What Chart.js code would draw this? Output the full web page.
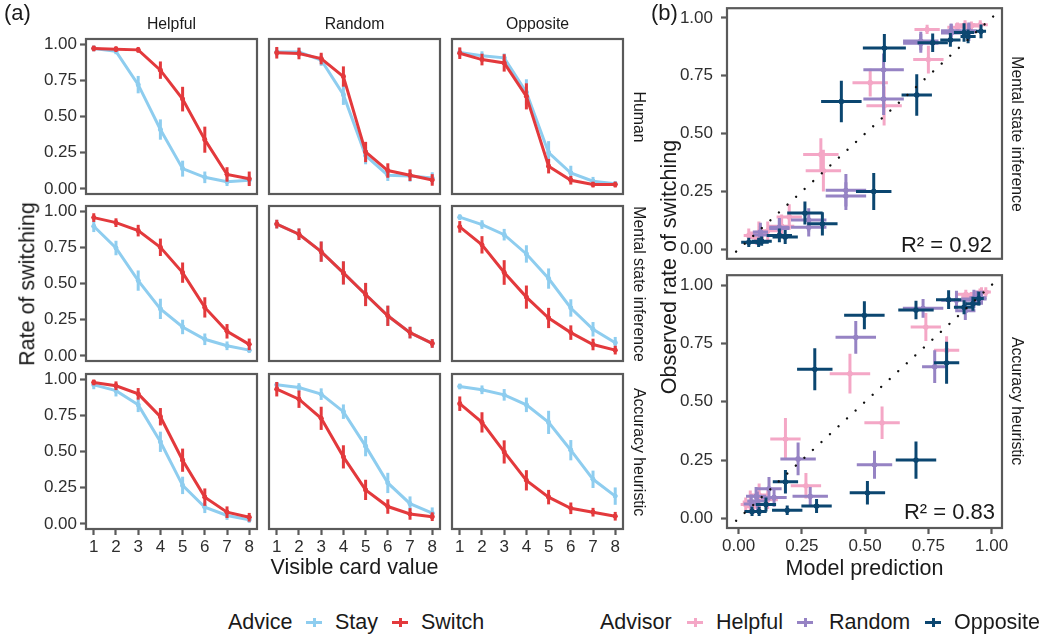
<!DOCTYPE html>
<html><head><meta charset="utf-8">
<script src="https://cdn.jsdelivr.net/npm/chart.js@4.4.0/dist/chart.umd.min.js"></script>
<style>
html,body{margin:0;padding:0;background:#fff;}
#root{position:relative;width:1050px;height:638px;overflow:hidden;font-family:"Liberation Sans",Arial,Helvetica,sans-serif;color:#1a1a1a;background:#fff;}
#root canvas{position:absolute;}
.t{position:absolute;white-space:nowrap;line-height:1;}
.key{position:absolute;width:16px;height:9px;}
.key .h{position:absolute;left:0;top:3px;width:16px;height:3px;}
.key .v{position:absolute;left:6.5px;top:0;width:3px;height:9px;}
</style></head><body><div id="root"></div>
<script>
// ---------------- data ----------------
const cards = [1, 2, 3, 4, 5, 6, 7, 8];
const cardTickLabels = ['1', '2', '3', '4', '5', '6', '7', '8'];
const rateTicks = [0, 0.25, 0.5, 0.75, 1];
const rateTickLabels = ['0.00', '0.25', '0.50', '0.75', '1.00'];
const advisors = ['Helpful', 'Random', 'Opposite'];
const sources = ['Human', 'Mental state inference', 'Accuracy heuristic'];
const adviceLabels = ['Stay', 'Switch'];
const r2Labels = ['R\u00B2 = 0.92', 'R\u00B2 = 0.83'];
const identityLine = [-0.01, 1.02];

// Human
const humanHelpfulStay      = [0.97, 0.95, 0.72, 0.41, 0.14, 0.08, 0.05, 0.06];
const humanHelpfulStayErr   = [0.02, 0.02, 0.06, 0.07, 0.055, 0.04, 0.03, 0.03];
const humanHelpfulSwitch    = [0.97, 0.965, 0.96, 0.82, 0.62, 0.34, 0.10, 0.07];
const humanHelpfulSwitchErr = [0.02, 0.02, 0.02, 0.06, 0.085, 0.09, 0.05, 0.05];
const humanRandomStay       = [0.945, 0.945, 0.89, 0.65, 0.23, 0.095, 0.09, 0.075];
const humanRandomStayErr    = [0.03, 0.03, 0.04, 0.07, 0.06, 0.04, 0.04, 0.04];
const humanRandomSwitch     = [0.94, 0.935, 0.90, 0.776, 0.255, 0.127, 0.095, 0.062];
const humanRandomSwitchErr  = [0.04, 0.04, 0.04, 0.07, 0.07, 0.05, 0.04, 0.04];
const humanOppositeStay     = [0.942, 0.92, 0.905, 0.667, 0.25, 0.11, 0.053, 0.035];
const humanOppositeStayErr  = [0.03, 0.03, 0.03, 0.09, 0.08, 0.05, 0.03, 0.02];
const humanOppositeSwitch   = [0.937, 0.893, 0.870, 0.639, 0.157, 0.06, 0.03, 0.03];
const humanOppositeSwitchErr= [0.04, 0.04, 0.06, 0.09, 0.05, 0.03, 0.02, 0.02];

// Mental state inference model
const msiHelpfulStay      = [0.895, 0.745, 0.52, 0.325, 0.20, 0.115, 0.07, 0.04];
const msiHelpfulStayErr   = [0.04, 0.05, 0.07, 0.07, 0.05, 0.04, 0.03, 0.02];
const msiHelpfulSwitch    = [0.955, 0.92, 0.865, 0.75, 0.575, 0.335, 0.17, 0.08];
const msiHelpfulSwitchErr = [0.03, 0.03, 0.04, 0.06, 0.07, 0.07, 0.05, 0.04];
const msiRandomStay       = [0.91, 0.84, 0.72, 0.573, 0.424, 0.277, 0.161, 0.086];
const msiRandomStayErr    = [0.03, 0.04, 0.07, 0.08, 0.08, 0.07, 0.04, 0.03];
const msiRandomSwitch     = [0.91, 0.84, 0.72, 0.573, 0.424, 0.277, 0.161, 0.086];
const msiRandomSwitchErr  = [0.03, 0.04, 0.07, 0.08, 0.08, 0.07, 0.04, 0.03];
const msiOppositeStay     = [0.958, 0.907, 0.837, 0.704, 0.534, 0.331, 0.184, 0.091];
const msiOppositeStayErr  = [0.02, 0.03, 0.04, 0.06, 0.07, 0.06, 0.05, 0.04];
const msiOppositeSwitch   = [0.891, 0.767, 0.576, 0.406, 0.262, 0.161, 0.079, 0.04];
const msiOppositeSwitchErr= [0.04, 0.06, 0.085, 0.08, 0.07, 0.05, 0.04, 0.03];

// Accuracy heuristic model
const ahHelpfulStay      = [0.96, 0.92, 0.822, 0.567, 0.266, 0.115, 0.058, 0.028];
const ahHelpfulStayErr   = [0.03, 0.04, 0.05, 0.07, 0.06, 0.04, 0.03, 0.02];
const ahHelpfulSwitch    = [0.977, 0.954, 0.898, 0.74, 0.44, 0.185, 0.081, 0.046];
const ahHelpfulSwitchErr = [0.02, 0.03, 0.04, 0.06, 0.08, 0.06, 0.04, 0.03];
const ahRandomStay       = [0.96, 0.942, 0.896, 0.775, 0.537, 0.283, 0.14, 0.074];
const ahRandomStayErr    = [0.02, 0.03, 0.04, 0.05, 0.07, 0.07, 0.05, 0.04];
const ahRandomSwitch     = [0.93, 0.861, 0.729, 0.463, 0.235, 0.12, 0.069, 0.05];
const ahRandomSwitchErr  = [0.05, 0.06, 0.08, 0.08, 0.07, 0.05, 0.04, 0.03];
const ahOppositeStay     = [0.949, 0.926, 0.891, 0.822, 0.701, 0.509, 0.308, 0.192];
const ahOppositeStayErr  = [0.02, 0.03, 0.04, 0.05, 0.08, 0.07, 0.06, 0.06];
const ahOppositeSwitch   = [0.83, 0.701, 0.497, 0.301, 0.185, 0.108, 0.081, 0.053];
const ahOppositeSwitchErr= [0.05, 0.07, 0.08, 0.07, 0.05, 0.04, 0.03, 0.03];

// ---------------- styling ----------------
const FONT = '"Liberation Sans", Arial, Helvetica, sans-serif';
const STAY_COLOR = '#8ECDEF';
const SWITCH_COLOR = '#E3393C';
const ADVISOR_COLORS = ['#F4A7C6', '#9683C4', '#0B4670'];
const BORDER_COLOR = '#5a5a5a';
const TICK_TEXT = '#2e2e2e';
const TICK_SIZE = 17;

const table = {
  Human: {
    Helpful: [humanHelpfulStay, humanHelpfulStayErr, humanHelpfulSwitch, humanHelpfulSwitchErr],
    Random: [humanRandomStay, humanRandomStayErr, humanRandomSwitch, humanRandomSwitchErr],
    Opposite: [humanOppositeStay, humanOppositeStayErr, humanOppositeSwitch, humanOppositeSwitchErr]
  },
  'Mental state inference': {
    Helpful: [msiHelpfulStay, msiHelpfulStayErr, msiHelpfulSwitch, msiHelpfulSwitchErr],
    Random: [msiRandomStay, msiRandomStayErr, msiRandomSwitch, msiRandomSwitchErr],
    Opposite: [msiOppositeStay, msiOppositeStayErr, msiOppositeSwitch, msiOppositeSwitchErr]
  },
  'Accuracy heuristic': {
    Helpful: [ahHelpfulStay, ahHelpfulStayErr, ahHelpfulSwitch, ahHelpfulSwitchErr],
    Random: [ahRandomStay, ahRandomStayErr, ahRandomSwitch, ahRandomSwitchErr],
    Opposite: [ahOppositeStay, ahOppositeStayErr, ahOppositeSwitch, ahOppositeSwitchErr]
  }
};

const root = document.getElementById('root');

const borderPlugin = {
  id: 'panelBorder',
  afterDraw(chart) {
    const { ctx, chartArea: a } = chart;
    ctx.save();
    ctx.strokeStyle = BORDER_COLOR; ctx.lineWidth = 2.2;
    ctx.strokeRect(a.left, a.top, a.right - a.left, a.bottom - a.top);
    ctx.restore();
  }
};
const errPlugin = {
  id: 'errBars',
  afterDatasetDraw(chart, args) {
    const ds = chart.data.datasets[args.index];
    if (!ds.errY && !ds.errX) return;
    const xs = chart.scales.x, ys = chart.scales.y, ctx = chart.ctx, a = chart.chartArea;
    ctx.save();
    ctx.beginPath(); ctx.rect(a.left, a.top, a.right - a.left, a.bottom - a.top); ctx.clip();
    ctx.strokeStyle = ds.errColor; ctx.lineWidth = ds.errWidth; ctx.lineCap = 'butt';
    ds.data.forEach((p, i) => {
      const px = xs.getPixelForValue(p.x), py = ys.getPixelForValue(p.y);
      ctx.beginPath();
      if (ds.errY) { ctx.moveTo(px, ys.getPixelForValue(p.y - ds.errY[i])); ctx.lineTo(px, ys.getPixelForValue(p.y + ds.errY[i])); }
      if (ds.errX) { ctx.moveTo(xs.getPixelForValue(p.x - ds.errX[i]), py); ctx.lineTo(xs.getPixelForValue(p.x + ds.errX[i]), py); }
      ctx.stroke();
      ctx.beginPath(); ctx.fillStyle = ds.pointBackgroundColor;
      ctx.arc(px, py, ds.pointRadius, 0, Math.PI * 2); ctx.fill();
    });
    ctx.restore();
  }
};

function axisCfg(show, min, max, vals, labels, isY, size, pad) {
  const c = {
    type: 'linear', min, max, display: show,
    afterBuildTicks: s => { s.ticks = vals.map(v => ({ value: v })); },
    ticks: { callback: (v, i) => labels[i], font: { family: FONT, size: TICK_SIZE }, color: TICK_TEXT,
             padding: pad, maxRotation: 0, autoSkip: false },
    grid: { display: true, drawOnChartArea: false, drawTicks: true, tickLength: 6, tickWidth: 2.2,
            tickColor: BORDER_COLOR, color: BORDER_COLOR },
    border: { display: false }
  };
  if (show) c.afterFit = s => { if (isY) s.width = size; else s.height = size; };
  return c;
}

function makeChart(g, type, datasets, xScale, yScale) {
  const P = 16;
  const axW = g.showY ? g.axW : 0, axH = g.showX ? g.axH : 0;
  const W = g.w + axW + 2 * P, H = g.h + axH + 2 * P;
  const cv = document.createElement('canvas');
  cv.width = W; cv.height = H;
  cv.style.left = (g.l - axW - P) + 'px'; cv.style.top = (g.t - P) + 'px';
  cv.style.width = W + 'px'; cv.style.height = H + 'px';
  root.appendChild(cv);
  new Chart(cv, {
    type, data: { datasets },
    options: {
      responsive: false, animation: false, devicePixelRatio: 1, events: [],
      layout: { padding: P },
      plugins: { legend: { display: false }, tooltip: { enabled: false } },
      scales: { x: xScale, y: yScale }
    },
    plugins: [borderPlugin, errPlugin]
  });
}

// ---------------- panel (a) ----------------
const colL = [86, 269, 452], colW = 171;
const rowT = [39, 206, 374], rowH = 155;
const aX = [0.65, 8.35], aY = [-0.035, 1.035];

function lineDs(vals, errs, color) {
  return {
    data: cards.map((c, i) => ({ x: c, y: vals[i] })),
    borderColor: color, backgroundColor: color, borderWidth: 3, tension: 0,
    pointRadius: 2.4, pointBorderWidth: 0, pointBackgroundColor: color,
    errY: errs, errColor: color, errWidth: 3, fill: false
  };
}

sources.forEach((src, r) => {
  advisors.forEach((adv, c) => {
    const [st, stE, sw, swE] = table[src][adv];
    const g = { l: colL[c], t: rowT[r], w: colW, h: rowH, showX: r === 2, showY: c === 0, axW: 60, axH: 32 };
    makeChart(g, 'line',
      [lineDs(sw, swE, SWITCH_COLOR), lineDs(st, stE, STAY_COLOR)],
      axisCfg(g.showX, aX[0], aX[1], cards, cardTickLabels, false, 32, 2),
      axisCfg(g.showY, aY[0], aY[1], rateTicks, rateTickLabels, true, 60, 3));
  });
});

// ---------------- panel (b) ----------------
const bL = 727, bW = 275, bT = [6, 273], bH = 255;
const bX = [-0.046, 1.041], bY = [-0.041, 1.042];
const models = ['Mental state inference', 'Accuracy heuristic'];

models.forEach((m, r) => {
  const ds = [{
    data: identityLine.map(v => ({ x: v, y: v })), showLine: true,
    borderColor: '#111', borderWidth: 2.4, borderDash: [0.01, 11.6], borderCapStyle: 'round',
    pointRadius: 0, fill: false
  }];
  [2, 1, 0].forEach(ai => {
    const adv = advisors[ai];
    const hum = table.Human[adv], mod = table[m][adv];
    const pts = [], ex = [], ey = [];
    [0, 2].forEach(k => {
      cards.forEach((c, i) => {
        pts.push({ x: mod[k][i], y: hum[k][i] });
        ex.push(mod[k + 1][i]); ey.push(hum[k + 1][i]);
      });
    });
    const col = ADVISOR_COLORS[ai];
    ds.push({ data: pts, showLine: false, pointRadius: 2.6, pointBorderWidth: 0,
              pointBackgroundColor: col, backgroundColor: col, borderColor: col,
              errX: ex, errY: ey, errColor: col, errWidth: 3 });
  });
  const g = { l: bL, t: bT[r], w: bW, h: bH, showX: r === 1, showY: true, axW: 60, axH: 32 };
  makeChart(g, 'scatter', ds,
    axisCfg(g.showX, bX[0], bX[1], rateTicks, rateTickLabels, false, 32, 2),
    axisCfg(true, bY[0], bY[1], rateTicks, rateTickLabels, true, 60, 8));
});

// ---------------- text ----------------
function text(str, x, y, o) {
  const d = document.createElement('div');
  d.className = 't';
  d.textContent = str;
  d.style.fontSize = o.size + 'px';
  d.style.left = x + 'px'; d.style.top = y + 'px';
  if (o.color) d.style.color = o.color;
  const tx = o.anchor === 'l' ? '0' : o.anchor === 'r' ? '-100%' : '-50%';
  d.style.transform = `translate(${tx},-50%)` + (o.rot ? ` rotate(${o.rot}deg)` : '');
  root.appendChild(d);
  return d;
}
const bl = (baseline, size) => baseline - 0.3465 * size; // em-box centre from baseline

text('(a)', 4, bl(20.5, 22), { size: 22, anchor: 'l' });
text('(b)', 651, bl(20.5, 22), { size: 22, anchor: 'l' });
advisors.forEach((a, c) => text(a, colL[c] + colW / 2, bl(29.5, 15.8), { size: 15.8 }));
sources.forEach((s, r) => text(s, 638.5, rowT[r] + rowH / 2, { size: 15.8, rot: 90 }));
models.forEach((s, r) => text(s, 1017, bT[r] + bH / 2, { size: 15.8, rot: 90 }));
text('Rate of switching', 27.5, 284, { size: 21.5, rot: -90 });
text('Observed rate of switching', 669.5, 267, { size: 21.5, rot: -90 });
text('Visible card value', 354.5, bl(575, 21.5), { size: 21.5 });
text('Model prediction', 864.5, bl(576, 21.5), { size: 21.5 });
text(r2Labels[0], 992, bl(253, 22), { size: 22, anchor: 'r' });
text(r2Labels[1], 995, bl(520, 22), { size: 22, anchor: 'r' });

// ---------------- legends ----------------
function key(x, yc, color) {
  const k = document.createElement('div');
  k.className = 'key';
  k.style.left = x + 'px'; k.style.top = (yc - 4.5) + 'px';
  k.innerHTML = `<div class="h" style="background:${color}"></div><div class="v" style="background:${color}"></div>`;
  root.appendChild(k);
}
const LEG_BASE = 630, LEG_SIZE = 21.5, legC = bl(LEG_BASE, LEG_SIZE), keyC = LEG_BASE - 7.5;
text('Advice', 228, legC, { size: LEG_SIZE, anchor: 'l' });
key(306, keyC, STAY_COLOR);
text(adviceLabels[0], 335, legC, { size: LEG_SIZE, anchor: 'l' });
key(392, keyC, SWITCH_COLOR);
text(adviceLabels[1], 421, legC, { size: LEG_SIZE, anchor: 'l' });
text('Advisor', 600, legC, { size: LEG_SIZE, anchor: 'l' });
const advKeyX = [687, 797, 925], advTextX = [716, 829, 954];
advisors.forEach((a, i) => { key(advKeyX[i], keyC, ADVISOR_COLORS[i]); text(a, advTextX[i], legC, { size: LEG_SIZE, anchor: 'l' }); });
</script></body></html>
